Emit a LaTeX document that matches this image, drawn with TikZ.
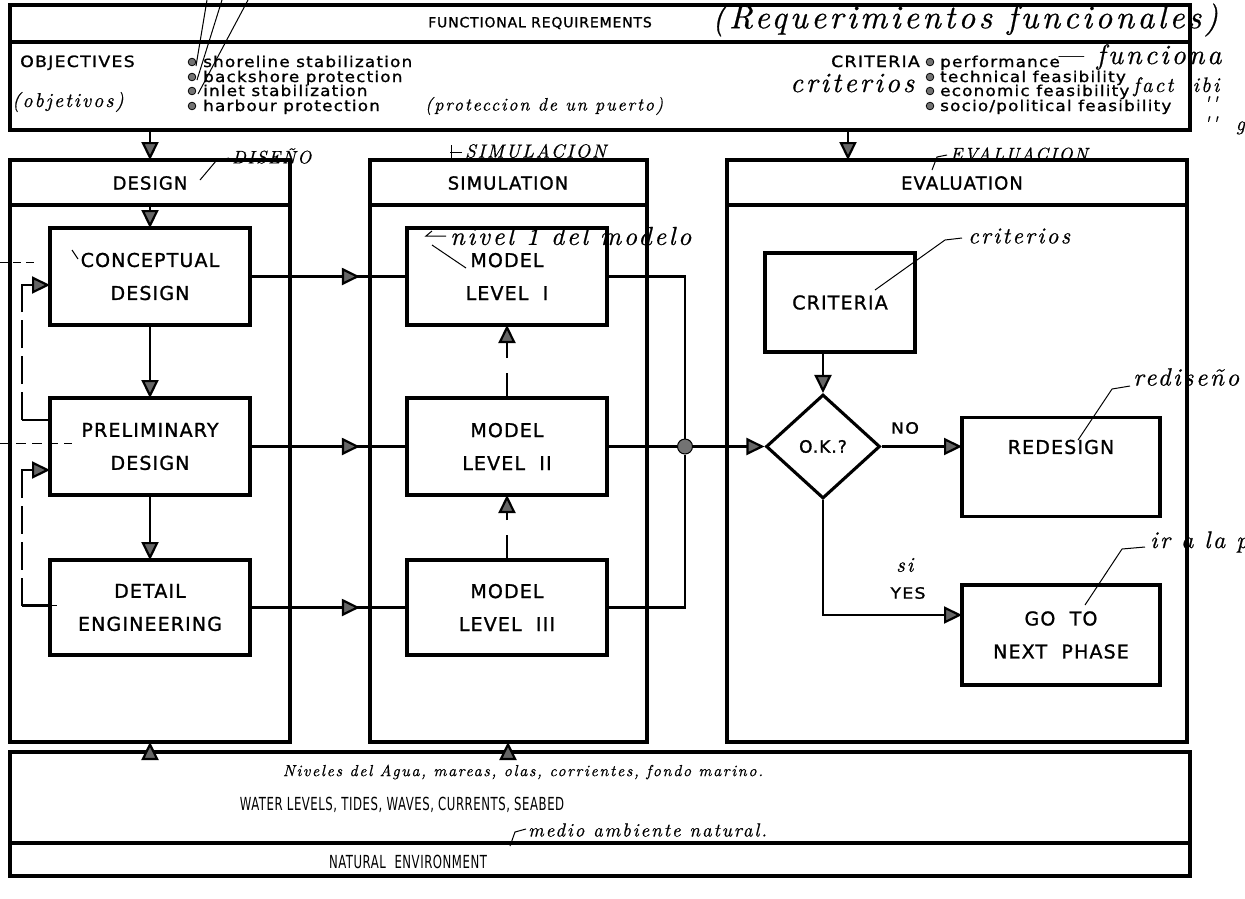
\documentclass[tikz,border=0pt]{standalone}
\usepackage{fontspec}
\newfontfamily\pr[LetterSpace=6,FakeBold=1.2]{DejaVu Sans}
\newfontfamily\prw[LetterSpace=8,FakeStretch=1.12,FakeBold=1.2]{DejaVu Sans}
\newfontfamily\prn[FakeStretch=0.65,LetterSpace=3]{DejaVu Sans}
\newfontfamily\hw[LetterSpace=10,FakeBold=0.6]{lmroman10-italic.otf}
\usetikzlibrary{arrows.meta,calc,decorations.markings,shapes.geometric}
\begin{document}
\begin{tikzpicture}[x=1pt,y=-1pt,
 frame/.style={draw,line width=3.3pt,inner sep=0pt,outer sep=0pt},
 box/.style={draw,line width=3.1pt,inner sep=0pt,outer sep=0pt,align=center,font=\pr\fontsize{19}{33}\selectfont},
 ttl/.style={inner sep=0pt,font=\pr\fontsize{18}{20}\selectfont},
 lbl/.style={inner sep=0pt,font=\prw\fontsize{15}{17}\selectfont},
 big/.style={inner sep=0pt,font=\prw\fontsize{15.5}{18}\selectfont},
 env/.style={inner sep=0pt,font=\prn\fontsize{18}{20}\selectfont},
 hand/.style={inner sep=0pt,font=\hw\fontsize{#1}{#1}\selectfont},
 conn/.style={line width=2.2pt},
 tip/.style={-{Triangle[length=18pt,width=17pt,fill=black!60]}},
 midtip/.style={postaction={decorate},decoration={markings,mark=at position #1 with {\arrow{Triangle[length=18pt,width=17pt,fill=black!60]}}}},
 pen/.style={line width=1pt},
 fb/.style={line width=2.2pt,dash pattern=on 28pt off 8pt},
 bullet/.style={fill=black!55,draw=black,line width=0.8pt}
]
\useasboundingbox (0,0) rectangle (1245,898);
\fill[white] (0,0) rectangle (1245,898);

% ---------- top box ----------
\node[frame,anchor=north west,minimum width=1180pt,minimum height=125pt] (top) at (10,5) {};
\draw[line width=3.3pt] (top.west |- 0,42) -- (top.east |- 0,42);
\node[inner sep=0pt,font=\pr\fontsize{14}{16}\selectfont] (ftitle) at (540,23) {FUNCTIONAL REQUIREMENTS};
\node[big,anchor=base west] (obj) at (20,67) {OBJECTIVES};
\foreach \y in {62,77,91,106} {\fill[bullet] (192,\y) circle (3.8pt); \fill[bullet] (930,\y) circle (3.8pt);}
\node[lbl,anchor=base west] (o1) at (203,67) {shoreline stabilization};
\node[lbl,anchor=base west] (o2) at (203,82) {backshore protection};
\node[lbl,anchor=base west] (o3) at (203,96) {inlet stabilization};
\node[lbl,anchor=base west] (o4) at (203,111) {harbour protection};
\node[big,anchor=base east] (crit0) at (920,67) {CRITERIA};
\node[lbl,anchor=base west] (c1) at (940,67) {performance};
\node[lbl,anchor=base west] (c2) at (940,82) {technical feasibility};
\node[lbl,anchor=base west] (c3) at (940,96) {economic feasibility};
\node[lbl,anchor=base west] (c4) at (940,111) {socio/political feasibility};

% ---------- columns ----------
\node[frame,anchor=north west,minimum width=280pt,minimum height=582pt] (dcol) at (10,160) {};
\node[frame,anchor=north west,minimum width=277pt,minimum height=582pt] (scol) at (370,160) {};
\node[frame,anchor=north west,minimum width=460pt,minimum height=582pt] (ecol) at (727,160) {};
\foreach \c in {dcol,scol,ecol} {\draw[line width=3.3pt] (\c.west |- 0,205) -- (\c.east |- 0,205);}
\node[ttl] (dtit) at (150,183) {DESIGN};
\node[ttl] (stit) at (508,183) {SIMULATION};
\node[ttl] (etit) at (962,183) {EVALUATION};
\coordinate (ddiv) at (150,205);
\coordinate (ein) at (848,0);

% ---------- bottom box ----------
\node[frame,anchor=north west,minimum width=1180pt,minimum height=124pt] (bot) at (10,752) {};
\draw[line width=3.3pt] (bot.west |- 0,843) -- (bot.east |- 0,843);
\node[env] (water) at (402,805) {WATER LEVELS, TIDES, WAVES, CURRENTS, SEABED};
\node[env] (natenv) at (408,862) {NATURAL\ \ ENVIRONMENT};

% ---------- design boxes ----------
\node[box,minimum width=200pt,minimum height=97pt] (con) at (150,276.5) {CONCEPTUAL\\DESIGN};
\node[box,minimum width=200pt,minimum height=97pt] (pre) at (150,446.5) {PRELIMINARY\\DESIGN};
\node[box,minimum width=200pt,minimum height=95pt] (det) at (150,607.5) {DETAIL\\ENGINEERING};
% ---------- models ----------
\node[box,minimum width=200pt,minimum height=97pt] (m1) at (507,276.5) {MODEL\\LEVEL\ \ I};
\node[box,minimum width=200pt,minimum height=97pt] (m2) at (507,446.5) {MODEL\\LEVEL\ \ II};
\node[box,minimum width=200pt,minimum height=95pt] (m3) at (507,607.5) {MODEL\\LEVEL\ \ III};
% ---------- evaluation ----------
\node[box,minimum width=150pt,minimum height=99pt] (crit) at (840,302.5) {CRITERIA};
\node[draw,diamond,line width=3.1pt,inner sep=0pt,minimum width=114pt,minimum height=104pt,font=\pr\fontsize{17}{20}\selectfont] (dia) at (823,446.5) {O.K.?};
\node[box,minimum width=198pt,minimum height=99pt] (red) at (1061,467) {};
\node[inner sep=0pt,font=\pr\fontsize{19}{22}\selectfont] (redl) at (1061,447) {REDESIGN};
\node[box,minimum width=198pt,minimum height=100pt] (go) at (1061,635) {GO\ \ TO\\NEXT\ \ PHASE};
\node[inner sep=0pt,circle,fill=black!55,draw,line width=1pt,minimum size=15pt] (jn) at (685,446.5) {};

% ---------- connectors ----------
\draw[conn,tip] (top.south -| dtit) -- (dcol.north -| dtit);
\draw[conn,tip] (top.south -| ein) -- (ecol.north -| ein);
\draw[conn,tip] (ddiv) -- (con.north);
\draw[conn,tip] (con.south) -- (pre.north);
\draw[conn,tip] (pre.south) -- (det.north);
\draw[conn,midtip=0.7] (con.east) -- (m1.west);
\draw[conn,midtip=0.7] (pre.east) -- (m2.west);
\draw[conn,midtip=0.7] (det.east) -- (m3.west);
\draw[conn] (m3.north) -- ++(0,-25);
\draw[conn,tip] ($(m3.north)+(0,-40)$) -- (m2.south);
\draw[conn] (m2.north) -- ++(0,-25);
\draw[conn,tip] ($(m2.north)+(0,-40)$) -- (m1.south);
\draw[conn] (m1.east) -| (jn);
\draw[conn] (m3.east) -| (jn);
\draw[conn] (m2.east) -- (jn);
\draw[conn,tip] (jn) -- (dia.west);
\draw[conn,tip] (crit.south -| dia.north) -- (dia.north);
\draw[conn,tip] (dia.east) -- (red.west |- dia.east);
\draw[conn,tip] (dia.south) |- ([yshift=20pt]go.west);
\node[big] (nol) at (905,428) {NO};
\node[big] (yesl) at (908,593) {YES};
\draw[conn,tip] (bot.north -| dtit) -- (dcol.south -| dtit);
\draw[conn,tip] (bot.north -| stit) -- (scol.south -| stit);
% feedback loops
\draw[conn] ([yshift=26.5pt]pre.west) -- ++(-28,0) coordinate (fa);
\draw[fb] (fa) -- (fa |- 0,300);
\draw[conn,tip] (fa |- 0,300) -- (fa |- 0,285) -- ([yshift=-8.5pt]con.west);
\draw[conn] ([yshift=2pt]det.west) -- ++(-28,0) coordinate (fc);
\draw[fb] (fc) -- (fc |- 0,485);
\draw[conn,tip] (fc |- 0,485) -- (fc |- 0,470) -- ([yshift=-23.5pt]pre.west);

% ---------- handwritten notes ----------
\node[hand=33,anchor=west] (hreq) at (712,20) {(Requerimientos funcionales)};
\node[hand=20,anchor=west] (hobj) at (12,102) {(objetivos)};
\node[hand=18,anchor=west] (hpro) at (425,106) {(proteccion de un puerto)};
\node[hand=28,anchor=west] (hcri) at (790,83) {criterios};
\node[hand=28,anchor=base west] (hfun) at (1055,64) {\textemdash\ funciona};
\node[hand=21,anchor=base west] (hfac) at (1133,92) {fact\ \ ibi};
\node[hand=20,anchor=north west,align=left] (hq) at (1203,96) {''\\''\ \ g};
\draw[pen] (207,0) -- (196,66);
\draw[pen] (222,0) -- (197,80);
\draw[pen] (248,0) -- (198,94);
\node[hand=18,anchor=west] (hdis) at (232,156) {DISEÑO};
\draw[pen] (200,180) -- (216,161) -- (229,158);
\node[hand=19,anchor=west] (hsim) at (465,151) {SIMULACION};
\draw[pen] (450,152) -- (462,152); \draw[pen] (451,145) -- (451,160);
\node[hand=18,anchor=west] (heva) at (950,154) {EVALUACION};
\draw[pen] (932,170) -- (937,157) -- (947,155);
\node[hand=26,anchor=west] (hniv) at (450,236) {nivel 1 del modelo};
\draw[pen] (446,236) -- (426,236) -- (432,231); \draw[pen] (432,245) -- (466,268);
\node[hand=23,anchor=west] (hcrs) at (968,236) {criterios};
\draw[pen] (962,238) -- (945,240) -- (875,290);
\node[hand=25,anchor=west] (hred) at (1133,377) {rediseño};
\draw[pen] (1130,386) -- (1112,389) -- (1078,440);
\node[hand=21,anchor=west] (hsi) at (896,565) {si};
\node[hand=24,anchor=west] (hira) at (1150,542) {ir a la p};
\draw[pen] (1145,547) -- (1122,549) -- (1085,605);
\node[hand=16] (hniv2) at (523,772) {Niveles del Agua, mareas, olas, corrientes, fondo marino.};
\node[hand=19,anchor=west] (hmed) at (528,830) {medio ambiente natural.};
\draw[pen] (526,829) -- (515,832) -- (510,846);
% stray marks on the left
\draw[pen,dash pattern=on 8pt off 5pt] (0,262) -- (38,262);
\draw[pen,dash pattern=on 10pt off 6pt] (0,443) -- (72,443);
\draw[pen] (72,250) -- (78,259);
\draw[pen] (37,605) -- (57,605);
\end{tikzpicture}
\end{document}
